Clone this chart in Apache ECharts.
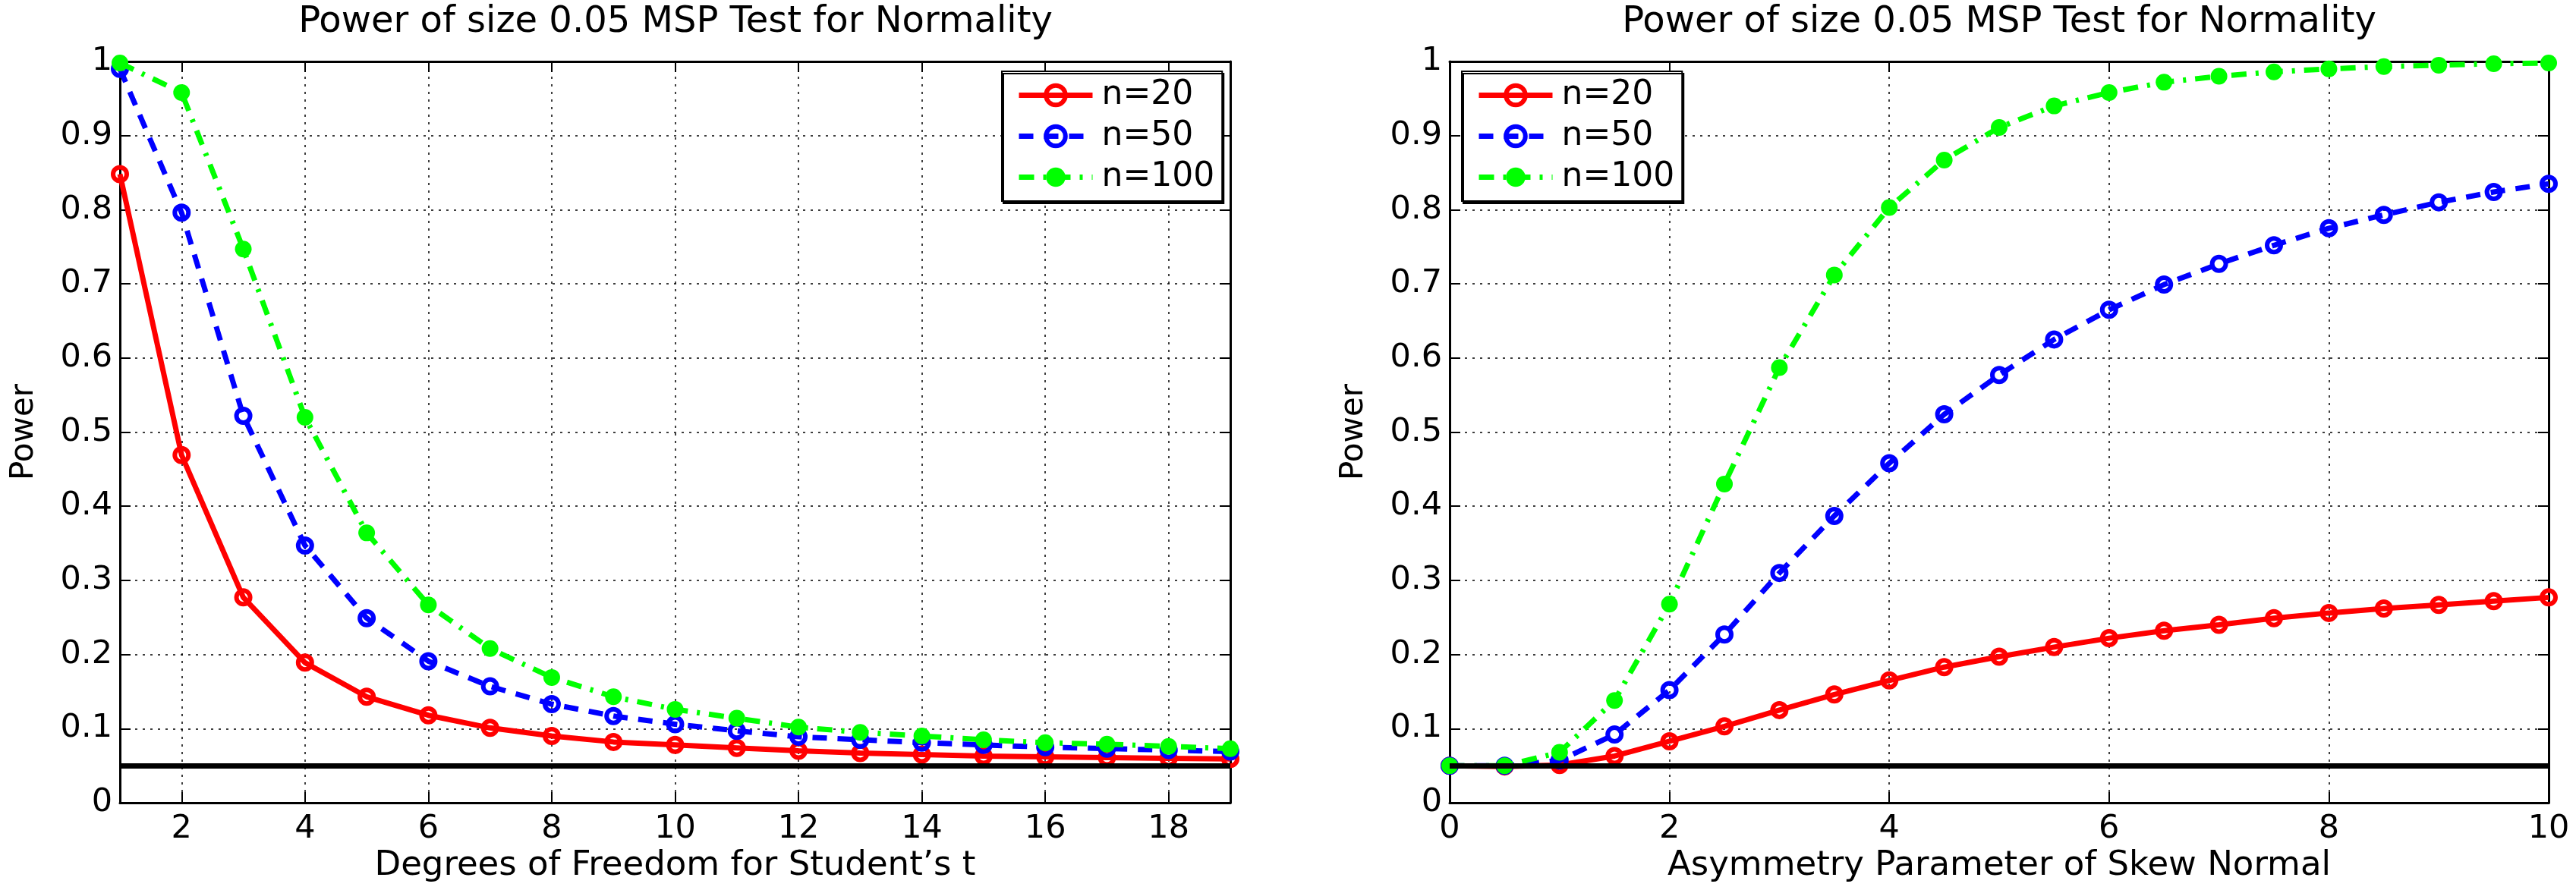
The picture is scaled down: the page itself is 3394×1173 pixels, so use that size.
<!DOCTYPE html>
<html>
<head>
<meta charset="utf-8">
<title>Power of size 0.05 MSP Test for Normality</title>
<script src="https://cdn.jsdelivr.net/npm/echarts@6/dist/echarts.min.js"></script>
<style>
    html, body { margin: 0; padding: 0; background: #fff; }
    #chart { width: 3394px; height: 1173px; }
</style>
</head>
<body>
<div id="chart"></div>
<script>
// data
var seriesNames = ['n=20', 'n=50', 'n=100'];
var testSize = 0.05;

// left panel: Student's t, degrees of freedom 1..19
var dfValues = [1, 2, 3, 4, 5, 6, 7, 8, 9, 10, 11, 12, 13, 14, 15, 16, 17, 18, 19];
var tPower20 = [0.848, 0.469, 0.277, 0.189, 0.143, 0.118, 0.101, 0.090, 0.082, 0.078, 0.074, 0.070, 0.067, 0.065, 0.063, 0.062, 0.061, 0.060, 0.059];
var tPower50 = [0.990, 0.796, 0.522, 0.347, 0.249, 0.191, 0.157, 0.133, 0.117, 0.106, 0.097, 0.089, 0.085, 0.081, 0.078, 0.075, 0.073, 0.071, 0.069];
var tPower100 = [0.998, 0.958, 0.747, 0.520, 0.364, 0.267, 0.208, 0.169, 0.143, 0.126, 0.114, 0.102, 0.095, 0.090, 0.085, 0.081, 0.079, 0.076, 0.073];

// right panel: skew normal, asymmetry parameter 0..10
var alphaValues = [0, 0.5, 1, 1.5, 2, 2.5, 3, 3.5, 4, 4.5, 5, 5.5, 6, 6.5, 7, 7.5, 8, 8.5, 9, 9.5, 10];
var snPower20 = [0.050, 0.049, 0.051, 0.063, 0.083, 0.103, 0.125, 0.146, 0.165, 0.183, 0.197, 0.210, 0.222, 0.232, 0.240, 0.249, 0.256, 0.262, 0.267, 0.272, 0.277];
var snPower50 = [0.050, 0.050, 0.057, 0.092, 0.152, 0.227, 0.310, 0.387, 0.458, 0.524, 0.577, 0.625, 0.665, 0.699, 0.727, 0.752, 0.775, 0.793, 0.810, 0.824, 0.835];
var snPower100 = [0.050, 0.050, 0.068, 0.138, 0.268, 0.430, 0.587, 0.712, 0.803, 0.867, 0.911, 0.940, 0.958, 0.972, 0.980, 0.986, 0.990, 0.993, 0.995, 0.997, 0.998];

var FONT = 'DejaVu Sans';
var W = 3394, H = 1173;

var styles = [
    { color: '#ff0000', dash: 'solid', fill: 'rgba(0,0,0,0)', size: 18, border: 6 },
    { color: '#0000ff', dash: [19, 14], fill: 'rgba(0,0,0,0)', size: 18, border: 6 },
    { color: '#00ff00', dash: [20, 12, 4, 12], fill: '#00ff00', size: 22, border: 0 }
];

function zip(xs, ys) {
    var out = [];
    for (var i = 0; i < xs.length; i++) {
        out.push([xs[i], ys[i]]);
    }
    return out;
}

var lineBlack = { color: '#000', width: 3 };
var tickIn = { show: true, inside: true, length: 14, lineStyle: { color: '#000', width: 2 } };
var gridDots = { show: true, lineStyle: { color: '#000', width: 1.5, type: [3, 7] } };
var tickFont = { fontFamily: FONT, fontSize: 43, color: '#000' };

function xAxes(gridIndex, min, max, step, name, edgeLabels) {
    var base = { type: 'value', gridIndex: gridIndex, min: min, max: max, minInterval: step, maxInterval: step };
    var bottom = Object.assign({}, base, {
        position: 'bottom',
        name: name,
        nameLocation: 'middle',
        nameGap: 58,
        nameTextStyle: { fontFamily: FONT, fontSize: 45, color: '#000' },
        axisLine: { show: true, onZero: false, lineStyle: lineBlack },
        axisTick: tickIn,
        axisLabel: Object.assign({ margin: 13, showMinLabel: edgeLabels, showMaxLabel: edgeLabels }, tickFont),
        splitLine: gridDots
    });
    var top = Object.assign({}, base, {
        position: 'top',
        axisLine: { show: true, onZero: false, lineStyle: lineBlack },
        axisTick: tickIn,
        axisLabel: { show: false },
        splitLine: { show: false }
    });
    return [bottom, top];
}

function yAxes(gridIndex) {
    var base = { type: 'value', gridIndex: gridIndex, min: 0, max: 1, interval: 0.1 };
    var left = Object.assign({}, base, {
        position: 'left',
        name: 'Power',
        nameLocation: 'middle',
        nameGap: 105,
        nameTextStyle: { fontFamily: FONT, fontSize: 42, color: '#000' },
        axisLine: { show: true, onZero: false, lineStyle: lineBlack },
        axisTick: tickIn,
        axisLabel: Object.assign({ margin: 10 }, tickFont),
        splitLine: gridDots
    });
    var right = Object.assign({}, base, {
        position: 'right',
        axisLine: { show: true, onZero: false, lineStyle: lineBlack },
        axisTick: tickIn,
        axisLabel: { show: false },
        splitLine: { show: false }
    });
    return [left, right];
}

function makeSeries(i, xs, ys, axisIndex) {
    var st = styles[i];
    var s = {
        name: seriesNames[i],
        type: 'line',
        xAxisIndex: axisIndex,
        yAxisIndex: axisIndex,
        data: zip(xs, ys),
        symbol: 'circle',
        symbolSize: st.size,
        showAllSymbol: true,
        lineStyle: { color: st.color, width: 7, type: st.dash },
        itemStyle: { color: st.fill, borderColor: st.color, borderWidth: st.border },
        emphasis: { disabled: true },
        z: 2 + i
    };
    // black reference line at the test size, drawn over the curves
    if (i === 2) {
        s.markLine = {
            silent: true,
            symbol: ['none', 'none'],
            label: { show: false },
            lineStyle: { color: '#000', width: 7, type: 'solid' },
            emphasis: { disabled: true },
            data: [{ yAxis: testSize }],
            z: 10
        };
    }
    return s;
}

function legendAt(left) {
    return {
        orient: 'vertical',
        left: left,
        top: 94,
        data: seriesNames,
        itemWidth: 97,
        itemHeight: 32,
        itemGap: 9,
        padding: [9, 10, 9, 19],
        backgroundColor: '#fff',
        borderColor: '#000',
        borderWidth: 2,
        shadowColor: '#000',
        shadowBlur: 0,
        shadowOffsetX: 2,
        shadowOffsetY: 3,
        selectedMode: false,
        lineStyle: { width: 7, type: 'inherit' },
        itemStyle: { borderWidth: 'inherit' },
        textStyle: { fontFamily: FONT, fontSize: 44, lineHeight: 45, color: '#000', padding: [0, 0, 0, 7] }
    };
}

function titleAt(x) {
    return {
        text: 'Power of size 0.05 MSP Test for Normality',
        left: x,
        top: 6,
        padding: 0,
        textAlign: 'center',
        textStyle: { fontFamily: FONT, fontSize: 48, fontWeight: 'normal', color: '#000' }
    };
}

var chart = echarts.init(document.getElementById('chart'), null, { renderer: 'canvas' });

var leftX = xAxes(0, 1, 19, 2, 'Degrees of Freedom for Student\u2019s t', false);
var rightX = xAxes(1, 0, 10, 2, 'Asymmetry Parameter of Skew Normal', true);
var leftY = yAxes(0);
var rightY = yAxes(1);

var option = {
    animation: false,
    backgroundColor: '#fff',
    title: [titleAt(890), titleAt(2634)],
    legend: [legendAt(1320), legendAt(1926)],
    grid: [
        { left: 158, right: W - 1621, top: 81, bottom: H - 1058 },
        { left: 1910, right: W - 3358, top: 81, bottom: H - 1058 }
    ],
    // order: 0 left-bottom, 1 left-top, 2 right-bottom, 3 right-top
    xAxis: [leftX[0], leftX[1], rightX[0], rightX[1]],
    yAxis: [leftY[0], leftY[1], rightY[0], rightY[1]],
    series: [
        makeSeries(0, dfValues, tPower20, 0),
        makeSeries(1, dfValues, tPower50, 0),
        makeSeries(2, dfValues, tPower100, 0),
        makeSeries(0, alphaValues, snPower20, 2),
        makeSeries(1, alphaValues, snPower50, 2),
        makeSeries(2, alphaValues, snPower100, 2)
    ]
};

chart.setOption(option);
</script>
</body>
</html>
